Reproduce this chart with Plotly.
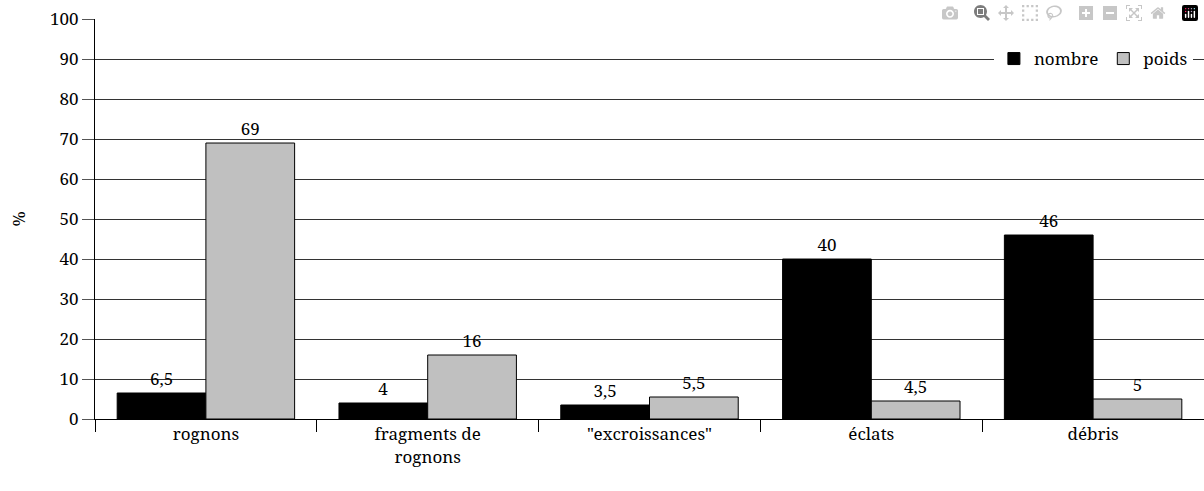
import plotly.graph_objects as go

categories = ["rognons", "fragments de<br>rognons", "\"excroissances\"", "éclats", "débris"]
nombre = [6.5, 4, 3.5, 40, 46]
poids = [69, 16, 5.5, 4.5, 5]


def fmt(v):
    return ("%g" % v).replace(".", ",")


SERIF = "Noto Serif, DejaVu Serif, serif"


def f(size=17):
    return dict(family=SERIF, size=size, color="black")


fig = go.Figure()
fig.add_trace(go.Bar(x=categories, y=nombre, name="nombre",
                     marker=dict(color="black", line=dict(color="black", width=1)),
                     text=[fmt(v) for v in nombre], textposition="outside",
                     cliponaxis=False, textfont=f()))
fig.add_trace(go.Bar(x=categories, y=poids, name="poids",
                     marker=dict(color="#c0c0c0", line=dict(color="black", width=1)),
                     text=[fmt(v) for v in poids], textposition="outside",
                     cliponaxis=False, textfont=f()))

fig.update_layout(
    width=1204, height=491,
    margin=dict(l=95, r=0, t=19, b=72, autoexpand=False),
    plot_bgcolor="white", paper_bgcolor="white",
    font=f(),
    barmode="group", bargap=0.2, bargroupgap=0,
    showlegend=True,
    legend=dict(orientation="h", x=0.99, xanchor="right", y=0.9, yanchor="middle",
                bgcolor="white", font=f(), itemwidth=30, traceorder="normal"),
)
fig.update_xaxes(showline=True, linecolor="black", linewidth=1, automargin=False,
                 ticks="outside", tickson="boundaries", ticklen=12, tickcolor="black",
                 showgrid=False, tickfont=f())
fig.update_yaxes(range=[0, 100.01], tickvals=list(range(0, 101, 10)),
                 showline=True, linecolor="black", linewidth=1,
                 automargin=False, tickfont=f(),
                 ticks="outside", ticklen=12, tickcolor="#555",
                 showgrid=True, gridcolor="#333", gridwidth=1, zeroline=False,
                 title=dict(text="%", standoff=20, font=f()))

# drop the page's default body margin so the figure sits at the window's corner
fig.write_html("out.html", post_script="document.body.style.margin='0';")
